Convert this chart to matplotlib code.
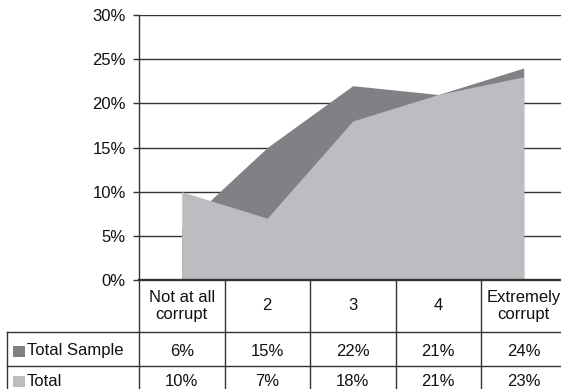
import matplotlib
matplotlib.use("Agg")
import matplotlib.pyplot as plt
import matplotlib.transforms as mtransforms
from matplotlib.patches import Rectangle
import numpy as np

# Perceived corruption scale, share of respondents per answer
categories = ["Not at all\ncorrupt", "2", "3", "4", "Extremely\ncorrupt"]
series_names = ["Total Sample", "Total"]
total_sample = [6, 15, 22, 21, 24]
total = [10, 7, 18, 21, 23]
y_ticks = [0, 5, 10, 15, 20, 25, 30]

DARK = "#808185"
LIGHT = "#bcbdc0"
LINE = "#333333"
TEXT = "#111111"
FS = 12

plt.rcParams["font.family"] = ["Liberation Sans", "DejaVu Sans"]

W, H = 561, 389
fig = plt.figure(figsize=(W / 100, H / 100), dpi=100)

# plot area in pixels: left edge, top gridline, baseline, category width
x0, y_top, y_base, col_w = 139, 15, 280, 85.5
n = len(categories)
ax = fig.add_axes([x0 / W, (H - y_base) / H, n * col_w / W, (y_base - y_top) / H])

x = np.arange(n)
ax.fill_between(x, 0, total_sample, color=DARK, lw=0, zorder=2)
ax.fill_between(x, 0, total, color=LIGHT, lw=0, zorder=3)

ax.set_xlim(-0.5, n - 0.5)
ax.set_ylim(0, 30)
ax.set_yticks(y_ticks)
ax.set_yticklabels([f"{v}%" for v in y_ticks])
for v in y_ticks[1:]:
    ax.axhline(v, color=LINE, lw=1.0, zorder=1)
ax.axhline(0, color=LINE, lw=1.7, zorder=4, clip_on=False)
ax.set_xticks([])
for s in ["top", "right", "bottom"]:
    ax.spines[s].set_visible(False)
ax.spines["left"].set_color(LINE)
ax.spines["left"].set_linewidth(1.0)
ax.tick_params(axis="y", length=4.5, width=1.0, color=LINE, pad=5,
               labelsize=FS, labelcolor=TEXT)

# data table below the plot
trans = mtransforms.blended_transform_factory(ax.transData, ax.transAxes)


def fy(py):
    return (y_base - py) / (y_base - y_top)


row_tops = [332, 366]
table_bottom = 400
label_left = -0.5 - (x0 - 7) / col_w
line_kw = dict(color=LINE, lw=1.0, transform=trans, clip_on=False, zorder=5)

for i in range(n + 1):
    ax.plot([i - 0.5, i - 0.5], [fy(y_base), fy(table_bottom)], **line_kw)
ax.plot([label_left, label_left], [fy(row_tops[0]), fy(table_bottom)], **line_kw)
for r in row_tops:
    ax.plot([label_left, n - 0.5], [fy(r), fy(r)], **line_kw)

for i, c in enumerate(categories):
    ax.text(i, fy(306), c, transform=trans, ha="center", va="center",
            fontsize=FS, linespacing=1.1, color=TEXT)

rows = [total_sample, total]
colors = [DARK, LIGHT]
row_centers = [351, 381]
for vals, name, col, cy in zip(rows, series_names, colors, row_centers):
    for i, v in enumerate(vals):
        ax.text(i, fy(cy), f"{v}%", transform=trans, ha="center", va="center",
                fontsize=FS, color=TEXT)
    fig.add_artist(Rectangle((13 / W, (H - cy - 6) / H), 12 / W, 11 / H,
                             transform=fig.transFigure, color=col, lw=0))
    fig.text(27 / W, (H - cy) / H, name, ha="left", va="center",
             fontsize=FS, color=TEXT)

fig.savefig("out.png", dpi=100)
